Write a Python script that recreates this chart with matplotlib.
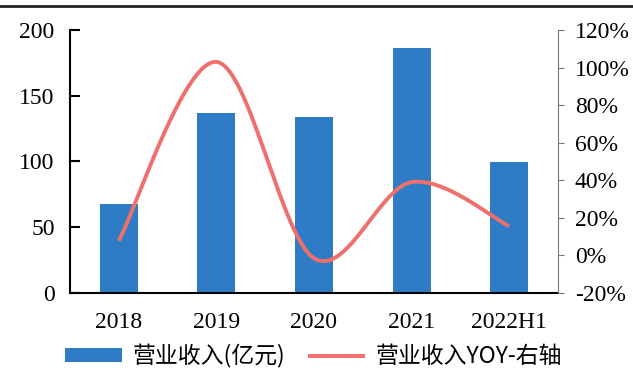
import matplotlib.pyplot as plt
import numpy as np

# data
years = ['2018', '2019', '2020', '2021', '2022H1']
revenue = [67.7, 136.8, 133.8, 186.3, 99.8]        # 亿元
yoy = [7.8, 103.0, -1.5, 39.0, 15.6]               # %

bar_color = '#2F7CC6'
line_color = '#EF6F6C'


def smooth_curve(xs, ys, n=60):
    '''excel-like smoothing: bezier segments with control points from neighbours'''
    xs = np.asarray(xs, float)
    ys = np.asarray(ys, float)
    px = np.concatenate([[xs[0]], xs, [xs[-1]]])
    py = np.concatenate([[ys[0]], ys, [ys[-1]]])
    outx, outy = [], []
    t = np.linspace(0, 1, n)
    for i in range(1, len(px) - 2):
        x0, x1, x2, x3 = px[i-1], px[i], px[i+1], px[i+2]
        y0, y1, y2, y3 = py[i-1], py[i], py[i+1], py[i+2]
        c1x, c1y = x1 + (x2 - x0) / 6, y1 + (y2 - y0) / 6
        c2x, c2y = x2 - (x3 - x1) / 6, y2 - (y3 - y1) / 6
        bx = (1-t)**3*x1 + 3*(1-t)**2*t*c1x + 3*(1-t)*t**2*c2x + t**3*x2
        by = (1-t)**3*y1 + 3*(1-t)**2*t*c1y + 3*(1-t)*t**2*c2y + t**3*y2
        outx.extend(bx)
        outy.extend(by)
    return np.array(outx), np.array(outy)


plt.rcParams['font.family'] = ['Liberation Serif', 'Noto Sans CJK SC']

fig = plt.figure(figsize=(6.33, 3.72), dpi=100)
ax = fig.add_axes([0.1106, 0.2124, 0.7709, 0.707])
ax2 = ax.twinx()

x = np.arange(len(years))
bars = ax.bar(x, revenue, width=0.39, color=bar_color, zorder=1,
              label='营业收入(亿元)')
ax.set_xlim(-0.5, len(years) - 0.5)
ax.set_ylim(0, 200)
ax.set_yticks([0, 50, 100, 150, 200])
ax.set_xticks(x)
ax.set_xticklabels(years)

sx, sy = smooth_curve(x, yoy)
ln, = ax2.plot(sx, sy, color=line_color, lw=2.8, solid_capstyle='butt',
               label='营业收入YOY-右轴')
ax2.set_ylim(-20, 120)
ax2.set_yticks(np.arange(-20, 121, 20))
ax2.set_yticklabels([f'{v}%' for v in range(-20, 121, 20)])

for a in (ax, ax2):
    a.spines['top'].set_visible(False)
ax.spines['right'].set_visible(False)
ax2.spines['left'].set_visible(False)
ax2.spines['bottom'].set_visible(False)
ax.spines['left'].set_linewidth(1.5)
ax.spines['bottom'].set_linewidth(1.5)
ax2.spines['right'].set_color('#777777')
ax2.spines['right'].set_linewidth(0.8)

ax.tick_params(axis='y', direction='in', length=7, width=1.5, labelsize=17, pad=11)
ax.tick_params(axis='x', length=0, labelsize=17, pad=14)
ax2.tick_params(axis='y', direction='out', length=4, width=0.8, color='#777777',
                labelsize=17, pad=8)

fig.legend([bars, ln], ['营业收入(亿元)', '营业收入YOY-右轴'],
           loc='center', bbox_to_anchor=(0.495, 0.043), ncol=2, frameon=False,
           prop={'family': 'Noto Sans CJK SC', 'size': 16.5},
           handlelength=2.5, handleheight=0.55, columnspacing=1.0,
           handletextpad=0.45, borderpad=0.1)

fig.add_artist(plt.Line2D([0, 1], [0.984, 0.984], color='#222222', lw=2))

fig.savefig('out.png', dpi=100)
